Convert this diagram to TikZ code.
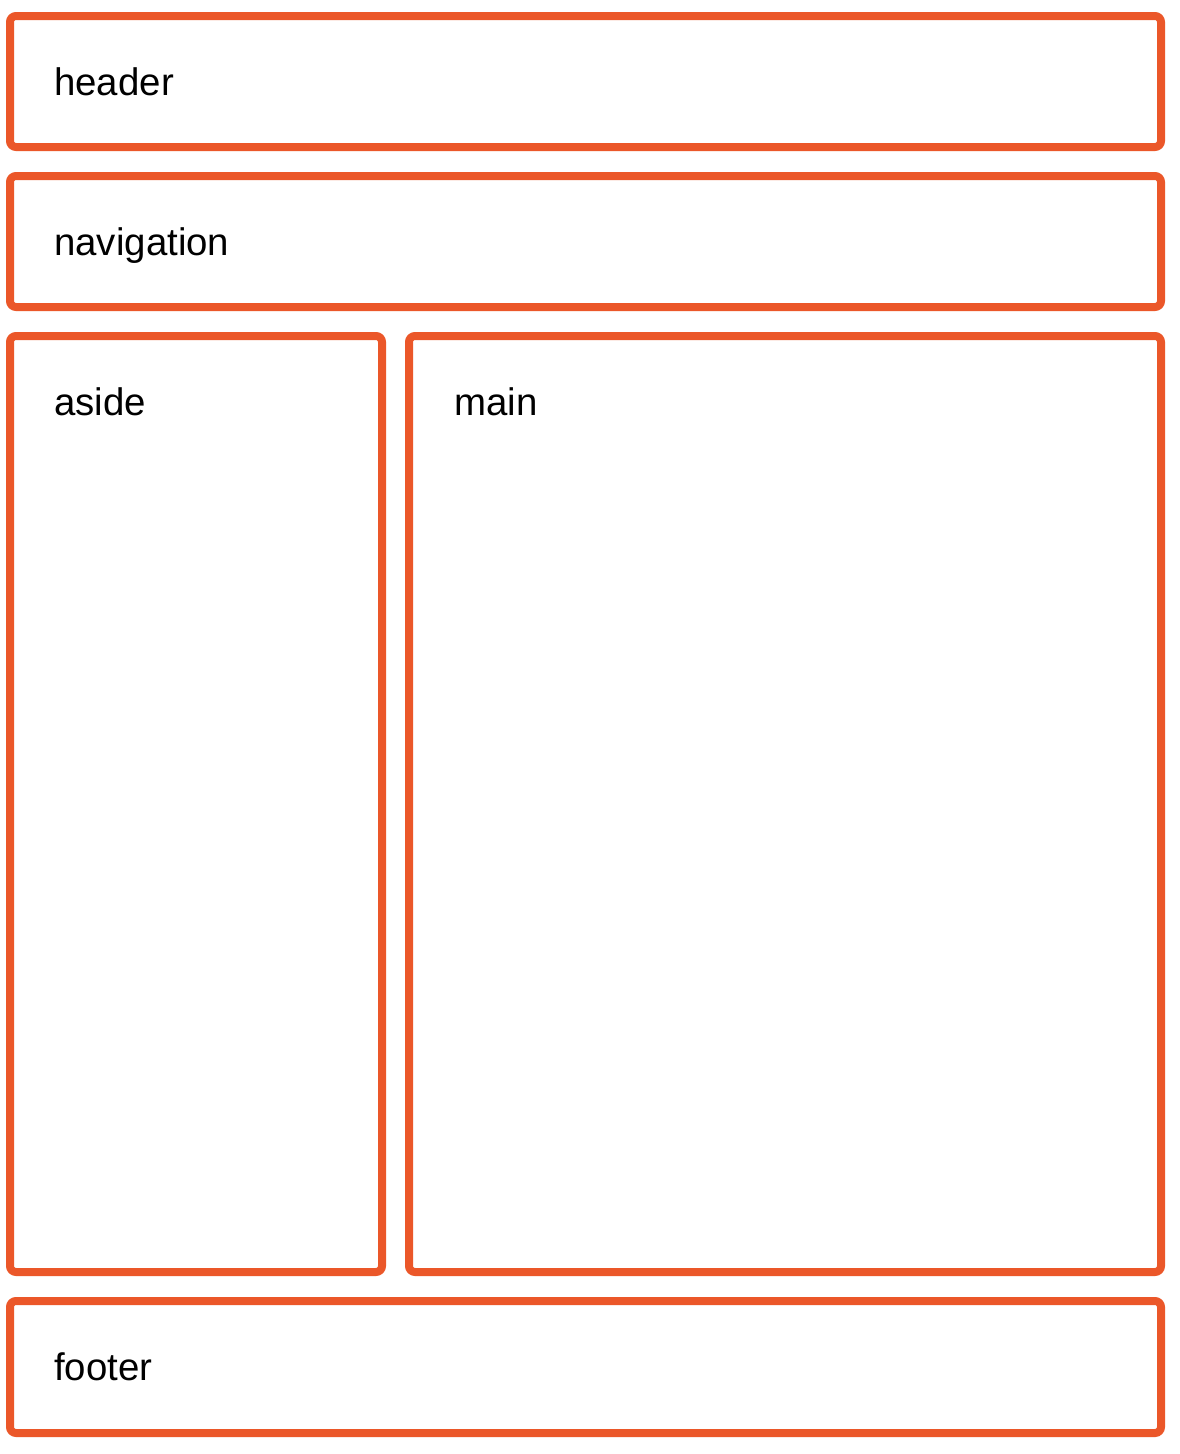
\documentclass[tikz,border=0pt]{standalone}
\usepackage{fontspec}
\setmainfont{Liberation Sans}
\definecolor{boxorange}{HTML}{EB5729}
\begin{document}
\begin{tikzpicture}[x=0.75pt,y=-0.75pt]
\tikzstyle{panel}=[draw=boxorange,line width=6pt,rounded corners=4.5pt]
\tikzstyle{label}=[anchor=base west,inner sep=0pt,font=\fontsize{28.8pt}{34pt}\selectfont]
\useasboundingbox (0,0) rectangle (1180,1454);
\draw[panel] (10,16) rectangle (1161,147);
\draw[panel] (10,176) rectangle (1161,307);
\draw[panel] (10,336) rectangle (382,1272);
\draw[panel] (409,336) rectangle (1161,1272);
\draw[panel] (10,1301) rectangle (1161,1433);
\node[label] (header) at (54,95) {header};
\node[label] (nav) at (54,255) {navigation};
\node[label] (aside) at (54,415) {aside};
\node[label] (main) at (454,415) {main};
\node[label] (footer) at (54,1380) {footer};
\end{tikzpicture}
\end{document}
